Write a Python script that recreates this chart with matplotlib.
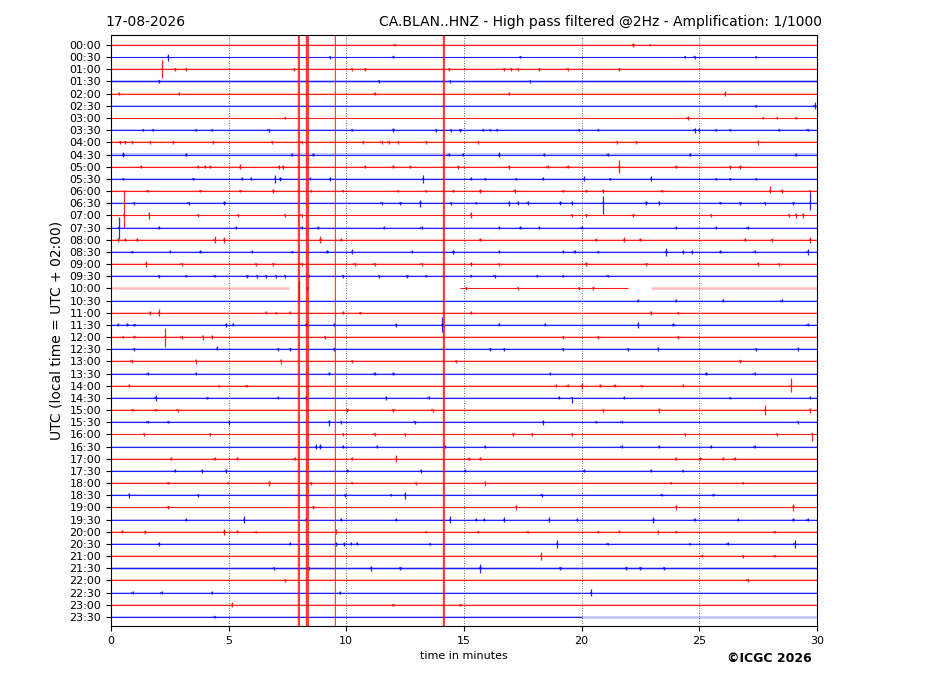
import matplotlib
matplotlib.use("Agg")
import matplotlib.pyplot as plt

# ---------------- data ----------------
date_label = "17-08-2026"
title_text = "CA.BLAN..HNZ - High pass filtered @2Hz - Amplification: 1/1000"
credit_text = "\u00a9ICGC 2026"
ylabel_text = "UTC (local time = UTC + 02:00)"
xlabel_text = "time in minutes"

row_labels = ["00:00", "00:30", "01:00", "01:30", "02:00", "02:30", "03:00", "03:30",
              "04:00", "04:30", "05:00", "05:30", "06:00", "06:30", "07:00", "07:30",
              "08:00", "08:30", "09:00", "09:30", "10:00", "10:30", "11:00", "11:30",
              "12:00", "12:30", "13:00", "13:30", "14:00", "14:30", "15:00", "15:30",
              "16:00", "16:30", "17:00", "17:30", "18:00", "18:30", "19:00", "19:30",
              "20:00", "20:30", "21:00", "21:30", "22:00", "22:30", "23:00", "23:30"]

x_ticks = [0, 5, 10, 15, 20, 25, 30]

# background noise half-amplitude per row (row units)
row_noise = [0.05, 0.05, 0.07, 0.10, 0.06, 0.03, 0.03, 0.06,
             0.09, 0.10, 0.08, 0.06, 0.06, 0.06, 0.07, 0.08,
             0.07, 0.07, 0.06, 0.07, 0.07, 0.06, 0.07, 0.07,
             0.08, 0.07, 0.08, 0.07, 0.07, 0.07, 0.07, 0.07,
             0.07, 0.07, 0.07, 0.08, 0.07, 0.08, 0.06, 0.07,
             0.08, 0.08, 0.06, 0.10, 0.08, 0.07, 0.05, 0.06]

# rows with data gaps: recorded segments (minutes) and flat segments
active_segments = {20: [(14.84, 21.97)], 47: [(0.0, 20.0)]}
flat_segments = {20: [(0.0, 7.56), (22.95, 30.0)], 47: [(20.0, 30.0)]}

# clipped signal that crosses the whole drum (minutes)
clip_minutes = [7.96, 8.01, 8.30, 8.33, 8.37, 9.50, 14.10, 14.14]

# events per row: (minute, amplitude) or (minute, amplitude up, amplitude down)
row_events = [
    [(12.05, .08), (22.2, .15), (22.9, .1)],
    [(2.42, .3), (9.3, .12), (12.0, .1), (17.4, .1), (24.4, .1), (24.8, .12), (27.4, .1)],
    [(2.17, .76, .69), (2.73, .12), (3.18, .12), (7.77, .12), (10.25, .1), (10.8, .12), (14.36, .12),
     (16.7, .1), (17.0, .1), (17.3, .1), (18.2, .12), (19.4, .1), (21.6, .1)],
    [(2.04, .15), (11.4, .1), (14.4, .15), (17.8, .1)],
    [(0.33, .15), (2.9, .1), (11.2, .1), (16.9, .1), (26.1, .2)],
    [(27.4, .08), (29.9, .3)],
    [(7.4, .12), (24.5, .15), (27.7, .1), (28.3, .1), (29.1, .1)],
    [(1.37, .1), (1.8, .1), (3.6, .1), (4.3, .1), (6.7, .12), (10.25, .1), (12.0, .15), (13.8, .12),
     (14.45, .12), (14.85, .12), (15.8, .1), (16.1, .1), (16.4, .1), (19.9, .1), (20.7, .1), (24.8, .2),
     (25.0, .12), (25.7, .1), (26.3, .1), (28.4, .1), (29.6, .1)],
    [(0.4, .12), (0.6, .12), (0.9, .12), (1.66, .1), (2.64, .12), (4.34, .15), (6.84, .12), (8.1, .15),
     (10.7, .1), (11.5, .1), (11.8, .1), (12.2, .1), (13.4, .1), (15.6, .1), (21.5, .12), (22.3, .1), (27.5, .22)],
    [(0.53, .2), (3.2, .1), (7.7, .1), (8.6, .15), (14.35, .15), (14.95, .15), (16.5, .2), (18.4, .12),
     (21.1, .1), (24.6, .1), (29.1, .1)],
    [(1.27, .1), (3.7, .1), (4.0, .1), (4.2, .1), (5.47, .2), (7.13, .15), (7.3, .15), (10.8, .12), (12.0, .1),
     (12.7, .1), (14.75, .15), (16.9, .15), (18.55, .1), (19.4, .12), (21.6, .55, .5), (24.0, .1), (26.3, .15),
     (26.75, .15)],
    [(0.5, .1), (3.5, .1), (5.57, .12), (5.96, .12), (6.97, .3), (7.2, .15), (8.45, .12), (9.3, .15), (13.25, .3),
     (15.3, .12), (15.9, .1), (17.2, .1), (18.35, .12), (20.1, .2), (21.2, .1), (22.95, .2), (25.7, .1),
     (26.3, .1), (27.4, .1)],
    [(1.56, .1), (3.8, .12), (5.5, .1), (6.9, .2), (8.5, .1), (9.86, .1), (12.2, .1), (13.4, .1), (14.55, .1),
     (15.7, .15), (17.15, .2), (19.2, .1), (20.2, .12), (20.9, .15), (23.4, .1), (28.0, .4, .2), (28.5, .15),
     (29.7, .1)],
    [(0.98, .12), (3.3, .12), (4.82, .15), (11.5, .12), (12.3, .12), (13.15, .3), (14.45, .12), (15.5, .1),
     (16.9, .22), (17.3, .15), (17.7, .15), (19.1, .15), (19.6, .15), (20.9, .63, .88), (22.75, .15),
     (23.3, .15), (25.9, .1), (26.75, .12), (27.8, .12), (29.0, .12), (29.7, .9, .6)],
    [(0.55, 2.05, 1.05), (1.62, .3), (3.7, .12), (5.4, .12), (7.4, .12), (8.1, .1), (15.3, .25), (19.6, .12),
     (20.2, .12), (22.2, .1), (25.5, .1), (28.8, .15), (29.1, .2), (29.4, .2)],
    [(0.34, .9, .95), (2.05, .12), (5.3, .12), (8.1, .1), (8.8, .12), (11.6, .15), (13.2, .12), (16.5, .12),
     (17.4, .15), (18.2, .1), (20.0, .1), (24.0, .1), (25.7, .1), (27.05, .1)],
    [(0.3, .15), (0.6, .1), (1.1, .1), (4.4, .3), (4.8, .25), (8.9, .3), (9.77, .1), (15.7, .12), (20.6, .12),
     (21.8, .2), (22.5, .12), (26.95, .12), (28.1, .15), (29.7, .25)],
    [(0.9, .1), (2.5, .12), (3.8, .12), (6.0, .12), (7.7, .1), (9.2, .12), (10.25, .2), (12.8, .12),
     (14.55, .15), (16.5, .12), (19.2, .12), (19.7, .12), (20.7, .1), (23.6, .3), (24.3, .15), (24.7, .15),
     (25.9, .12), (27.35, .12), (29.6, .25)],
    [(1.5, .22), (3.0, .12), (6.15, .12), (6.9, .12), (8.1, .12), (10.35, .12), (11.2, .12), (13.2, .12),
     (15.3, .15), (16.5, .12), (20.2, .15), (22.75, .12), (27.5, .2), (28.4, .12)],
    [(2.05, .12), (3.2, .1), (4.4, .1), (5.8, .12), (6.2, .12), (6.6, .12), (7.0, .12), (7.4, .12), (8.4, .1),
     (9.86, .12), (11.4, .12), (12.6, .12), (13.4, .1), (15.3, .1), (16.3, .12), (18.1, .1), (19.2, .1), (21.1, .1)],
    [(8.0, .61, .95), (8.35, .15), (15.1, .12), (17.3, .12), (19.9, .12), (20.5, .1)],
    [(22.4, .12), (24.0, .12), (26.0, .1), (28.5, .15)],
    [(1.66, .15), (2.05, .3), (6.6, .12), (7.0, .1), (7.6, .12), (9.86, .12), (10.6, .1), (15.3, .12),
     (22.95, .15), (24.1, .1)],
    [(0.3, .12), (0.7, .12), (1.0, .1), (4.88, .15), (5.18, .12), (8.3, .12), (9.47, .12), (12.1, .15),
     (14.08, .63, .6), (16.5, .12), (18.45, .12), (22.4, .25), (23.9, .12), (29.6, .12)],
    [(0.5, .1), (1.0, .1), (2.3, .76, .8), (3.0, .12), (3.9, .2), (4.3, .15), (9.1, .12), (19.2, .12),
     (20.7, .12), (24.1, .12)],
    [(0.98, .12), (4.5, .3, .1), (7.1, .12), (7.6, .12), (9.47, .12), (16.1, .12), (16.7, .12), (19.2, .12),
     (21.97, .12), (23.25, .15), (27.4, .12), (29.2, .15)],
    [(0.88, .12), (3.6, .2), (7.23, .2), (10.25, .12), (14.65, .12), (26.75, .12)],
    [(1.56, .1), (3.6, .1), (9.28, .12), (11.2, .12), (12.0, .15), (18.65, .12), (25.3, .12), (27.35, .15)],
    [(0.78, .12), (4.6, .1), (5.76, .1), (18.9, .12), (19.4, .12), (20.0, .25), (20.8, .12), (21.4, .12),
     (22.55, .1), (24.3, .12), (28.9, .6, .55)],
    [(1.9, .25), (4.1, .1), (7.1, .12), (8.3, .15), (11.7, .15), (13.5, .12), (19.05, .12), (19.6, .1, .4),
     (21.8, .12), (26.3, .1), (29.7, .12)],
    [(0.92, .1), (1.9, .1), (2.83, .12), (10.05, .12), (12.0, .12), (13.67, .12), (20.9, .12), (23.3, .2),
     (27.8, .4), (29.7, .2)],
    [(1.56, .1), (2.44, .1), (5.02, .2), (9.28, .15, .3), (9.77, .12), (12.9, .12), (18.35, .2), (20.6, .1),
     (21.7, .1), (29.2, .12)],
    [(1.4, .12), (4.2, .12), (9.86, .15), (11.2, .12), (12.5, .15), (17.1, .12), (17.9, .12), (19.6, .12),
     (24.4, .12), (28.3, .12), (29.8, .1, .5)],
    [(8.7, .2), (8.9, .2), (9.86, .12), (11.3, .12), (14.2, .12), (15.9, .12), (21.7, .12), (23.3, .1),
     (25.5, .12), (27.35, .12)],
    [(2.54, .12), (4.4, .12), (5.37, .12), (7.8, .12), (10.25, .12), (12.1, .3), (15.2, .12), (15.7, .12),
     (24.0, .12), (25.05, .12), (26.0, .12), (26.5, .12)],
    [(2.73, .12), (3.87, .2), (4.88, .15), (10.05, .12), (13.18, .15), (15.05, .12), (20.1, .12), (22.95, .12),
     (24.3, .1)],
    [(2.44, .1), (4.98, .1), (6.73, .2), (8.5, .12), (10.25, .1), (12.95, .12), (15.9, .2), (23.8, .1), (26.85, .1)],
    [(0.78, .2), (3.7, .12), (9.96, .12), (11.9, .1), (12.5, .3), (18.3, .12), (23.4, .1), (25.6, .1)],
    [(2.44, .12), (8.6, .15), (17.2, .2), (24.0, .2), (29.0, .3)],
    [(3.2, .1), (5.66, .3), (8.3, .1), (9.77, .12), (12.1, .12), (14.4, .3), (15.5, .15), (15.85, .15),
     (16.7, .2), (18.6, .2), (19.8, .12), (23.05, .25), (24.8, .15), (26.65, .12), (29.0, .12), (29.6, .15)],
    [(0.49, .12), (1.46, .15), (4.82, .25), (5.37, .12), (6.15, .1), (9.57, .2), (13.4, .1), (15.6, .1),
     (17.7, .1), (20.7, .1), (21.6, .12), (23.25, .15), (24.0, .1), (28.2, .1)],
    [(2.05, .15), (7.6, .12), (9.57, .15), (9.9, .15), (10.2, .12), (10.45, .12), (13.57, .1), (18.95, .35),
     (21.1, .1), (24.6, .1), (26.2, .12), (29.05, .35)],
    [(18.26, .3), (25.1, .1), (26.85, .12), (28.2, .1)],
    [(6.93, .1), (8.4, .12), (11.05, .2), (12.3, .1), (15.7, .35), (19.1, .12), (21.9, .12), (22.5, .12), (23.5, .12)],
    [(7.4, .1), (27.05, .15)],
    [(0.92, .12), (2.15, .12), (4.3, .1), (9.73, .12), (20.4, .3)],
    [(5.14, .2), (12.0, .1), (14.85, .1)],
    [(4.4, .1)],
]

trace_colors = ["#ff0000", "#0000ff"]

# ---------------- figure ----------------
fig = plt.figure(figsize=(9.27, 6.96), dpi=100)
ax = fig.add_axes([0.1197, 0.1006, 0.7616, 0.8491])

n_rows = len(row_labels)
for i in range(n_rows):
    col = trace_colors[i % 2]
    segs = active_segments.get(i, [(0.0, 30.0)])
    nz = row_noise[i]
    for (a, b) in segs:
        ax.fill_between([a, b], [i - nz, i - nz], [i + nz, i + nz], color=col, alpha=0.22, lw=0)
        ax.hlines(i, a, b, color=col, lw=0.8, alpha=0.85)
    for (a, b) in flat_segments.get(i, []):
        ax.hlines(i, a, b, color=col, lw=1.8, alpha=0.25)
    for ev in row_events[i]:
        m = ev[0]
        up = ev[1]
        down = ev[2] if len(ev) > 2 else ev[1]
        ax.vlines(m, i - up, i + down, color=col, lw=0.9, alpha=0.85)
        ax.hlines(i, m - 0.05, m + 0.05, color=col, lw=1.6, alpha=0.5)

for m in clip_minutes:
    ax.axvline(m, color="#ff0000", lw=1.6, alpha=0.15)
    ax.axvline(m, color="#ff0000", lw=0.7, alpha=0.7)

for t in x_ticks[1:-1]:
    ax.axvline(t, color="black", lw=0.6, ls=(0, (1, 2)), alpha=0.8)

ax.set_xlim(0, 30)
ax.set_ylim(47.74, -0.82)
ax.set_xticks(x_ticks)
ax.set_xticklabels([str(t) for t in x_ticks], fontsize=8)
ax.set_yticks(range(n_rows))
ax.set_yticklabels(row_labels, fontsize=8)
ax.set_xlabel(xlabel_text, fontsize=8)
ax.set_ylabel(ylabel_text, fontsize=10)

fig.text(0.114, 0.962, date_label, fontsize=10, ha="left", va="baseline")
fig.text(0.887, 0.962, title_text, fontsize=10, ha="right", va="baseline")
fig.text(0.8305, 0.054, credit_text, fontsize=9, fontweight="bold", ha="center", va="center")

fig.savefig("out.png", dpi=100)
